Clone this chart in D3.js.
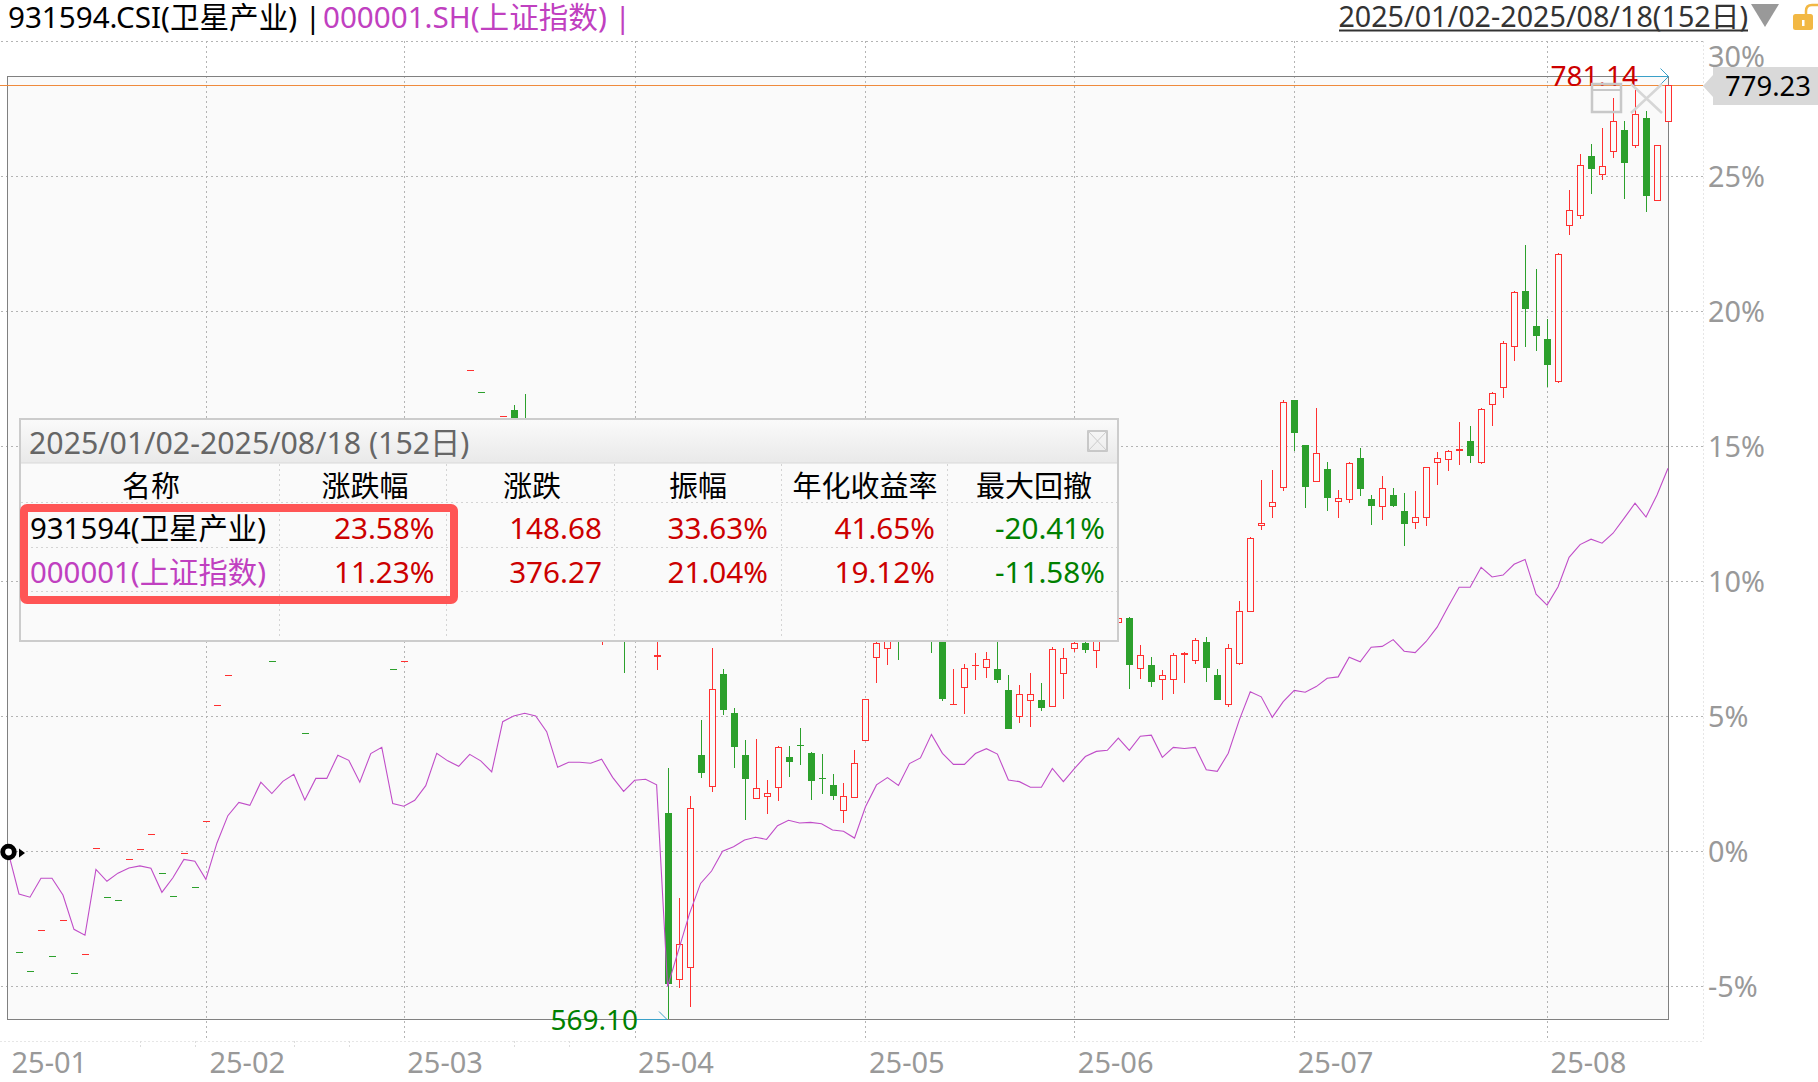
<!DOCTYPE html>
<html>
<head>
<meta charset="utf-8">
<style>
html, body { margin: 0; padding: 0; background: #fff; }
svg { display: block; }
text { font-family: "Noto Sans", "Noto Sans CJK SC", sans-serif; }
</style>
<script src="https://cdn.jsdelivr.net/npm/d3@7"></script>
</head>
<body>
<script>
// Width and height of svg
var w = 1818;
var h = 1082;

// Right axis ticks and month labels
var pctTicks = [-5, 0, 5, 10, 15, 20, 25, 30];
var monthLabels = ["25-01", "25-02", "25-03", "25-04", "25-05", "25-06", "25-07", "25-08"];
var monthStart = [0, 18, 36, 57, 78, 97, 117, 140];
var minorTicks = [12, 17, 26, 31, 46, 51];

// 000001.SH, % change from the first close
var indexPct = [0, -1.58, -1.70, -1.00, -1.00, -1.62, -2.89, -3.11, -0.67, -1.11,
    -0.81, -0.62, -0.54, -0.63, -1.52, -0.98, -0.30, -0.37, -1.04, 0.30,
    1.32, 1.81, 1.70, 2.56, 2.14, 2.59, 2.85, 1.90, 2.70, 2.70,
    3.56, 3.37, 2.56, 3.62, 3.85, 1.77, 1.67, 1.89, 2.43, 3.63,
    3.35, 3.15, 3.59, 3.35, 2.94, 4.80, 5.01, 5.11, 5.01, 4.43,
    3.11, 3.30, 3.30, 3.26, 3.41, 2.74, 2.22, 2.63, 2.67, 2.46,
    -5.01, -3.65, -2.30, -1.19, -0.73, 0.00, 0.17, 0.42, 0.52, 0.44,
    0.95, 1.15, 1.05, 1.07, 1.02, 0.79, 0.74, 0.49, 1.65, 2.46,
    2.73, 2.44, 3.25, 3.46, 4.33, 3.63, 3.22, 3.22, 3.62, 3.80,
    3.60, 2.64, 2.58, 2.37, 2.37, 3.07, 2.58, 3.06, 3.51, 3.70,
    3.74, 4.19, 3.74, 4.26, 4.30, 3.48, 3.85, 3.81, 3.85, 3.02,
    2.96, 3.63, 4.86, 5.91, 5.72, 4.96, 5.54, 5.96, 5.89, 6.10,
    6.41, 6.46, 7.19, 7.02, 7.56, 7.59, 7.84, 7.41, 7.36, 7.77,
    8.30, 9.06, 9.78, 9.78, 10.52, 10.16, 10.23, 10.63, 10.81, 9.52,
    9.12, 9.80, 10.89, 11.36, 11.56, 11.41, 11.78, 12.33, 12.89, 12.38,
    13.20, 14.19];

// 931594.CSI candles, same % axis. Days 0-45 only have a close, so o=h=l=c
var candleOpen = [0, -3.74, -4.44, -2.93, -3.89, -2.56, -4.52, -3.81, 0.11, -1.70,
    -1.81, -0.30, 0.07, 0.63, -0.81, -1.67, -0.07, -1.33, 1.11, 5.41,
    6.53, 8.6, 9.2, 8.4, 7.05, 8.2, 9.0, 4.37, 8.3, 9.1,
    10.8, 11.6, 10.2, 11.2, 9.4, 6.76, 7.05, 8.8, 11.0, 12.6,
    14.4, 15.4, 17.81, 17.0, 15.8, 16.12, 16.36, 15.5, 14.2, 13.0,
    12.0, 11.0, 11.8, 11.2, 9.5, 10.5, 9.6, 8.4, 9.2, 7.2,
    1.42, -4.78, -4.33, 3.57, 2.37, 6.57, 5.12, 3.57, 1.93, 2.00,
    2.33, 3.49, 3.93, 3.64, 2.71, 2.46, 1.48, 1.96, 4.07, 7.15,
    7.48, 9.0, 8.0, 8.8, 9.2, 8.2, 5.42, 6.04, 6.88, 6.80,
    6.74, 5.98, 4.99, 5.58, 5.60, 5.33, 6.58, 7.51, 7.72, 7.43,
    8.0, 8.44, 8.64, 6.77, 6.90, 6.33, 6.36, 7.27, 7.06, 7.75,
    6.53, 5.43, 6.95, 8.85, 12.06, 12.74, 13.44, 16.72, 15.05, 13.69,
    14.16, 12.93, 13.00, 14.57, 13.05, 12.74, 13.20, 12.60, 12.17, 12.33,
    14.37, 14.48, 14.81, 15.20, 14.40, 16.52, 17.15, 18.67, 20.75, 19.46,
    18.98, 17.40, 23.15, 23.54, 25.75, 25.04, 25.91, 26.70, 26.14, 27.15,
    24.07, 27.00];

var candleHigh = [0, -3.74, -4.44, -2.93, -3.89, -2.56, -4.52, -3.81, 0.11, -1.70,
    -1.81, -0.30, 0.07, 0.63, -0.81, -1.67, -0.07, -1.33, 1.11, 5.41,
    6.53, 8.6, 9.2, 8.4, 7.05, 8.2, 9.0, 4.37, 8.3, 9.1,
    10.8, 11.6, 10.2, 11.2, 9.4, 6.76, 7.05, 8.8, 11.0, 12.6,
    14.4, 15.4, 17.81, 17.0, 15.8, 16.12, 16.53, 16.93, 14.6, 13.5,
    12.6, 12.2, 12.4, 11.6, 11.0, 11.0, 10.0, 9.6, 9.8, 8.4,
    3.09, -1.73, 2.05, 4.86, 7.53, 6.74, 5.30, 4.12, 4.16, 2.64,
    3.90, 3.90, 4.57, 3.68, 3.60, 2.86, 2.53, 3.75, 5.63, 7.85,
    8.5, 9.3, 9.0, 9.4, 9.5, 8.6, 6.74, 6.93, 7.35, 7.37,
    8.2, 6.53, 6.16, 6.60, 6.23, 7.56, 7.53, 7.75, 7.90, 8.3,
    8.5, 8.70, 8.68, 7.64, 7.20, 6.70, 7.35, 7.37, 7.89, 7.94,
    6.75, 7.68, 9.27, 11.64, 13.75, 14.12, 16.72, 16.72, 15.05, 16.42,
    14.42, 13.38, 14.42, 14.93, 13.20, 13.90, 13.46, 13.27, 13.35, 14.22,
    14.79, 14.85, 15.90, 15.75, 16.42, 17.00, 18.89, 20.75, 22.46, 21.57,
    19.72, 22.16, 24.49, 25.83, 26.20, 26.79, 27.90, 27.05, 28.20, 27.41,
    26.15, 28.71];

var candleLow = [0, -3.74, -4.44, -2.93, -3.89, -2.56, -4.52, -3.81, 0.11, -1.70,
    -1.81, -0.30, 0.07, 0.63, -0.81, -1.67, -0.07, -1.33, 1.11, 5.41,
    6.53, 8.6, 9.2, 8.4, 7.05, 8.2, 9.0, 4.37, 8.3, 9.1,
    10.8, 11.6, 10.2, 11.2, 9.4, 6.76, 7.05, 8.8, 11.0, 12.6,
    14.4, 15.4, 17.81, 17.0, 15.8, 16.12, 14.5, 13.8, 12.8, 11.5,
    10.5, 10.6, 10.8, 9.6, 7.64, 9.0, 6.61, 8.0, 8.2, 6.71,
    -6.21, -5.05, -5.75, 2.73, 2.21, 5.06, 3.10, 1.17, 1.93, 1.40,
    1.88, 2.77, 3.20, 1.90, 2.12, 1.90, 1.06, 1.96, 4.07, 6.25,
    6.90, 7.09, 7.95, 8.0, 7.36, 5.58, 5.42, 5.09, 6.35, 6.42,
    6.23, 4.54, 4.77, 4.62, 5.20, 5.33, 5.64, 7.40, 7.36, 6.80,
    7.9, 8.44, 6.01, 6.38, 6.09, 5.60, 5.83, 6.23, 6.94, 6.27,
    5.60, 5.36, 6.91, 8.85, 11.91, 12.35, 13.36, 14.84, 12.72, 13.69,
    12.60, 12.35, 12.90, 13.16, 12.09, 12.27, 12.75, 11.31, 11.94, 12.05,
    13.57, 14.10, 14.31, 14.38, 14.36, 15.75, 16.80, 18.17, 18.69, 18.54,
    17.19, 17.36, 22.84, 23.43, 24.36, 24.86, 25.69, 24.17, 26.06, 23.69,
    24.07, 27.00];

var candleClose = [0, -3.74, -4.44, -2.93, -3.89, -2.56, -4.52, -3.81, 0.11, -1.70,
    -1.81, -0.30, 0.07, 0.63, -0.81, -1.67, -0.07, -1.33, 1.11, 5.41,
    6.53, 8.6, 9.2, 8.4, 7.05, 8.2, 9.0, 4.37, 8.3, 9.1,
    10.8, 11.6, 10.2, 11.2, 9.4, 6.76, 7.05, 8.8, 11.0, 12.6,
    14.4, 15.4, 17.81, 17.0, 15.8, 16.12, 15.0, 14.2, 13.0, 12.0,
    11.0, 11.8, 11.2, 10.0, 10.5, 9.6, 8.4, 9.2, 8.8, 7.27,
    -4.93, -3.44, 1.59, 2.91, 6.02, 5.25, 3.88, 2.69, 2.33, 2.15,
    3.85, 3.32, 3.92, 2.62, 2.70, 2.05, 2.04, 3.26, 5.63, 7.70,
    8.2, 7.9, 8.8, 8.4, 8.5, 5.64, 5.44, 6.78, 6.89, 7.11,
    6.35, 4.54, 5.81, 5.81, 5.32, 7.48, 7.15, 7.70, 7.46, 8.0,
    8.3, 8.63, 6.91, 7.26, 6.27, 6.52, 7.26, 7.33, 7.81, 6.80,
    5.60, 7.52, 8.89, 11.59, 12.15, 12.93, 16.63, 15.51, 13.51, 14.74,
    13.10, 13.07, 14.37, 13.43, 12.80, 13.44, 12.80, 12.14, 12.37, 14.22,
    14.56, 14.81, 14.89, 14.65, 16.37, 16.96, 18.81, 20.70, 20.10, 19.10,
    18.02, 22.11, 23.74, 25.41, 25.28, 25.37, 27.04, 25.51, 27.30, 24.28,
    26.15, 28.37];

// Popup table
var tableColumns = ["名称", "涨跌幅", "涨跌", "振幅", "年化收益率", "最大回撤"];
var tableNames = ["931594(卫星产业)", "000001(上证指数)"];
var tableChangePct = ["23.58%", "11.23%"];
var tableChange = ["148.68", "376.27"];
var tableAmplitude = ["33.63%", "21.04%"];
var tableAnnual = ["41.65%", "19.12%"];
var tableDrawdown = ["-20.41%", "-11.58%"];

var RED = "#ff3030", GREEN = "#2ca02c", PURPLE = "#c04dc8", BG = "#fafafa";
var TEXT_RED = "#cc0000", TEXT_GREEN = "#008000", TEXT_PURPLE = "#c040c0";

var svg = d3.select("body").append("svg")
    .attr("width", w)
    .attr("height", h);

// Scales
var x = d3.scaleLinear().domain([0, 151]).range([8, 1668]);
var y = d3.scaleLinear().domain([-5, 30]).range([986.3, 41.3]);

// Plot background
svg.append("rect")
    .attr("x", 7.5).attr("y", 76.5)
    .attr("width", 1661).attr("height", 943)
    .attr("fill", BG);

// Faint outer lines
svg.append("line").attr("x1", 0).attr("x2", 1703).attr("y1", 1041.5).attr("y2", 1041.5)
    .attr("stroke", "#e6e6e6").attr("stroke-dasharray", "2 2");
svg.append("line").attr("x1", 1703.5).attr("x2", 1703.5).attr("y1", 41).attr("y2", 1041)
    .attr("stroke", "#e6e6e6").attr("stroke-dasharray", "2 2");
svg.selectAll(".minor").data(minorTicks).enter().append("line")
    .attr("class", "minor")
    .attr("x1", function(d) { return Math.round(x(d)) + 0.5; })
    .attr("x2", function(d) { return Math.round(x(d)) + 0.5; })
    .attr("y1", 1041).attr("y2", 1047)
    .attr("stroke", "#dddddd").attr("stroke-dasharray", "2 2");

// Dotted grid
svg.selectAll(".hgrid").data(pctTicks).enter().append("line")
    .attr("class", "hgrid")
    .attr("x1", 1).attr("x2", 1706)
    .attr("y1", function(d) { return Math.round(y(d)) + 0.5; })
    .attr("y2", function(d) { return Math.round(y(d)) + 0.5; })
    .attr("stroke", "#b4b4b4")
    .attr("stroke-dasharray", "2 3");

svg.selectAll(".vgrid").data(monthStart.slice(1)).enter().append("line")
    .attr("class", "vgrid")
    .attr("x1", function(d) { return Math.round(x(d)) + 0.5; })
    .attr("x2", function(d) { return Math.round(x(d)) + 0.5; })
    .attr("y1", 41).attr("y2", 1041)
    .attr("stroke", "#b4b4b4")
    .attr("stroke-dasharray", "2 3");

// Candles
var candles = d3.range(candleClose.length).map(function(i) {
    var up = candleClose[i] > candleOpen[i] ||
        (candleClose[i] === candleOpen[i] && (i === 0 || candleClose[i] >= candleClose[i - 1]));
    return { i: i, o: candleOpen[i], h: candleHigh[i], l: candleLow[i], c: candleClose[i], up: up };
});

var candleG = svg.append("g").attr("shape-rendering", "crispEdges");

// wicks (dash-only days have none)
candleG.selectAll(".wick").data(candles.filter(function(d) { return d.h > d.l; })).enter().append("rect")
    .attr("class", "wick")
    .attr("x", function(d) { return Math.round(x(d.i)); })
    .attr("width", 1)
    .attr("y", function(d) { return y(d.h); })
    .attr("height", function(d) { return y(d.l) - y(d.h); })
    .attr("fill", function(d) { return d.up ? RED : GREEN; });

// Plot frame, over the wicks but under the bodies (the last wick runs on the frame)
candleG.append("rect")
    .attr("x", 7.5).attr("y", 76.5)
    .attr("width", 1661).attr("height", 943)
    .attr("fill", "none")
    .attr("stroke", "#808080")
    .attr("stroke-width", 1);

// Orange line at the last close
candleG.append("line")
    .attr("x1", 0).attr("x2", 1703)
    .attr("y1", Math.round(y(candleClose[151])) + 0.5)
    .attr("y2", Math.round(y(candleClose[151])) + 0.5)
    .attr("stroke", "#ef8a3c")
    .attr("stroke-width", 1);

// bodies
function bodyTop(d) { return Math.round(y(Math.max(d.o, d.c))); }
function bodyHeight(d) { return Math.max(1, Math.round(y(Math.min(d.o, d.c))) - bodyTop(d)); }

candleG.selectAll(".body").data(candles).enter().append("rect")
    .attr("class", "body")
    .attr("x", function(d) { return Math.round(x(d.i)) - 3; })
    .attr("width", 7)
    .attr("y", bodyTop)
    .attr("height", bodyHeight)
    .attr("fill", function(d) { return d.up ? RED : GREEN; });

// hollow inside of the rising candles
candleG.selectAll(".hollow").data(candles.filter(function(d) { return d.up && bodyHeight(d) > 2; })).enter().append("rect")
    .attr("class", "hollow")
    .attr("x", function(d) { return Math.round(x(d.i)) - 2; })
    .attr("width", 5)
    .attr("y", function(d) { return bodyTop(d) + 1; })
    .attr("height", function(d) { return bodyHeight(d) - 2; })
    .attr("fill", BG);

// Index line
var line = d3.line()
    .x(function(d, i) { return x(i); })
    .y(function(d) { return y(d); });

svg.append("path")
    .datum(indexPct)
    .attr("d", line)
    .attr("fill", "none")
    .attr("stroke", PURPLE)
    .attr("stroke-width", 1.1);

// Start marker
svg.append("circle").attr("cx", 8.5).attr("cy", 852).attr("r", 5.8)
    .attr("fill", "#fff").attr("stroke", "#000").attr("stroke-width", 4.8);
svg.append("path").attr("d", "M19,848.5L25,853L19,857.5Z").attr("fill", "#000");

// Right axis
var yAxis = svg.append("g")
    .attr("transform", "translate(1708,0)")
    .call(d3.axisRight(y).tickValues(pctTicks).tickSize(0).tickPadding(0)
        .tickFormat(function(d) { return d + "%"; }));
yAxis.select(".domain").remove();
yAxis.selectAll("text")
    .attr("font-family", null)
    .attr("font-size", 28.8)
    .attr("fill", "#999999")
    .attr("dy", "0.35em");
// the top label sits below its grid line
yAxis.selectAll(".tick").filter(function(d) { return d === 30; }).select("text").attr("y", 15);

// Month axis
var xAxis = svg.append("g")
    .attr("transform", "translate(0,1073)")
    .call(d3.axisBottom(x).tickValues(monthStart).tickSize(0).tickPadding(0)
        .tickFormat(function(d, i) { return monthLabels[i]; }));
xAxis.select(".domain").remove();
xAxis.selectAll("text")
    .attr("font-size", 29)
    .attr("fill", "#999999")
    .attr("text-anchor", "start")
    .attr("dx", 3)
    .attr("y", 0)
    .attr("dy", 0);

// Last price tag
svg.append("path")
    .attr("d", "M1703,86L1713,75V67H1818V105H1713V97Z")
    .attr("fill", "#d9d9d9");
svg.append("text").attr("x", 1811).attr("y", 86).attr("dy", "0.36em")
    .attr("text-anchor", "end").attr("font-size", 27.5).attr("fill", "#000")
    .text("779.23");

// High and low labels with their arrows
function arrow(x1, x2, yy, up) {
    svg.append("path")
        .attr("d", "M" + x1 + "," + yy + "H" + x2 + "M" + (x2 - 8) + "," + (yy - 8) + "L" + x2 + "," + yy +
            (up ? "L" + (x2 - 8) + "," + (yy + 8) : ""))
        .attr("fill", "none").attr("stroke", "#3aa0c8").attr("stroke-width", 1);
}
arrow(1637, 1668.5, 76.5, true);
arrow(636, 667, 1019.5, false);

svg.append("text").attr("x", 1638).attr("y", 76).attr("dy", "0.36em")
    .attr("text-anchor", "end").attr("font-size", 28).attr("fill", TEXT_RED)
    .text("781.14");
svg.append("text").attr("x", 638).attr("y", 1020).attr("dy", "0.36em")
    .attr("text-anchor", "end").attr("font-size", 28).attr("fill", TEXT_GREEN)
    .text("569.10");

// Faint window icons over the top right corner
svg.append("rect").attr("x", 1592).attr("y", 84).attr("width", 29).attr("height", 28)
    .attr("fill", "none").attr("stroke", "#c8c8c8").attr("stroke-width", 2.5);
svg.append("line").attr("x1", 1592).attr("x2", 1621).attr("y1", 90).attr("y2", 90)
    .attr("stroke", "#c8c8c8").attr("stroke-width", 2);
svg.append("path").attr("d", "M1631,84L1662,113M1662,84L1631,113")
    .attr("stroke", "#d6d6d6").attr("stroke-width", 2.5).attr("fill", "none");

// Header
svg.append("text").attr("x", 8).attr("y", 28).attr("font-size", 29.6)
    .attr("fill", "#000").text("931594.CSI(卫星产业) | ");
svg.append("text").attr("x", 323).attr("y", 28).attr("font-size", 29.6)
    .attr("fill", TEXT_PURPLE).text("000001.SH(上证指数) |");

svg.append("text").attr("x", 1748).attr("y", 27).attr("font-size", 28.7)
    .attr("text-anchor", "end").attr("fill", "#333333")
    .text("2025/01/02-2025/08/18(152日)");
svg.append("line").attr("x1", 1339).attr("x2", 1748).attr("y1", 30.5).attr("y2", 30.5)
    .attr("stroke", "#333").attr("stroke-width", 2);
svg.append("path").attr("d", "M1751,4H1779L1765,27Z").attr("fill", "#999999");

// Lock icon
svg.append("path").attr("d", "M1806,16V11Q1806,5 1812,5H1818")
    .attr("fill", "none").attr("stroke", "#f2b844").attr("stroke-width", 2.5);
svg.append("rect").attr("x", 1793).attr("y", 14).attr("width", 20).attr("height", 16).attr("rx", 2.5)
    .attr("fill", "#f2b844");
svg.append("rect").attr("x", 1802).attr("y", 20).attr("width", 2.5).attr("height", 6).attr("fill", "#fff");

// Popup
var defs = svg.append("defs");
var grad = defs.append("linearGradient").attr("id", "popupHead")
    .attr("x1", 0).attr("x2", 0).attr("y1", 0).attr("y2", 1);
grad.append("stop").attr("offset", "0%").attr("stop-color", "#fafafa");
grad.append("stop").attr("offset", "100%").attr("stop-color", "#e9e9e9");

var popup = svg.append("g");
popup.append("rect").attr("x", 20).attr("y", 419).attr("width", 1098).attr("height", 222)
    .attr("fill", BG).attr("stroke", "#cccccc").attr("stroke-width", 2);
popup.append("rect").attr("x", 21).attr("y", 420).attr("width", 1096).attr("height", 43)
    .attr("fill", "url(#popupHead)");
popup.append("line").attr("x1", 21).attr("x2", 1117).attr("y1", 463).attr("y2", 463)
    .attr("stroke", "#d8d8d8");
popup.append("text").attr("x", 29).attr("y", 443).attr("dy", "0.36em")
    .attr("font-size", 30.3).attr("fill", "#666666")
    .text("2025/01/02-2025/08/18 (152日)");

// close box
popup.append("rect").attr("x", 1088).attr("y", 431).attr("width", 19).attr("height", 20)
    .attr("fill", "none").attr("stroke", "#bbbbbb").attr("stroke-width", 1.5);
popup.append("path").attr("d", "M1088,431L1107,451M1107,431L1088,451")
    .attr("stroke", "#cccccc").attr("fill", "none");

var colDividers = [279.5, 446.5, 614.5, 781.5, 947.5];
var rowDividers = [502.5, 547.5, 591.5];

popup.selectAll(".coldiv").data(colDividers).enter().append("line")
    .attr("class", "coldiv")
    .attr("x1", function(d) { return d; }).attr("x2", function(d) { return d; })
    .attr("y1", 464).attr("y2", 636)
    .attr("stroke", "#d4d4d4").attr("stroke-dasharray", "2 3");
popup.selectAll(".rowdiv").data(rowDividers).enter().append("line")
    .attr("class", "rowdiv")
    .attr("x1", 21).attr("x2", 1117)
    .attr("y1", function(d) { return d; }).attr("y2", function(d) { return d; })
    .attr("stroke", "#d4d4d4").attr("stroke-dasharray", "2 3");

var colCenter = [151, 365, 532, 698, 865, 1034];
popup.selectAll(".colhead").data(tableColumns).enter().append("text")
    .attr("class", "colhead")
    .attr("x", function(d, i) { return colCenter[i]; })
    .attr("y", 487).attr("dy", "0.36em")
    .attr("text-anchor", "middle").attr("font-size", 29).attr("fill", "#000")
    .text(function(d) { return d; });

var rowY = [528, 572];
popup.selectAll(".rowname").data(tableNames).enter().append("text")
    .attr("class", "rowname")
    .attr("x", 30)
    .attr("y", function(d, i) { return rowY[i]; }).attr("dy", "0.36em")
    .attr("font-size", 29.4)
    .attr("fill", function(d, i) { return i === 0 ? "#000" : TEXT_PURPLE; })
    .text(function(d) { return d; });

var valueCols = [
    { right: 434.5, values: tableChangePct },
    { right: 602, values: tableChange },
    { right: 768, values: tableAmplitude },
    { right: 935, values: tableAnnual },
    { right: 1105, values: tableDrawdown }
];
valueCols.forEach(function(col) {
    popup.selectAll(null).data(col.values).enter().append("text")
        .attr("x", col.right)
        .attr("y", function(d, i) { return rowY[i]; }).attr("dy", "0.36em")
        .attr("text-anchor", "end").attr("font-size", 29.7)
        .attr("fill", function(d) { return d.charAt(0) === "-" ? TEXT_GREEN : TEXT_RED; })
        .text(function(d) { return d; });
});

// Red highlight round the two rows
popup.append("rect").attr("x", 24).attr("y", 508).attr("width", 430).attr("height", 92).attr("rx", 3)
    .attr("fill", "none").attr("stroke", "#ff5555").attr("stroke-width", 8);
</script>
</body>
</html>
